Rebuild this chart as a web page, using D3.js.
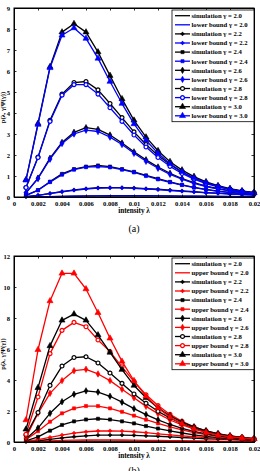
<!DOCTYPE html>
<html><head><meta charset="utf-8">
<script src="https://cdn.jsdelivr.net/npm/d3@7"></script>
<style>
html,body{margin:0;padding:0;background:#fff;}
svg{display:block;}
text{font-family:"Liberation Serif","Times New Roman",serif;}
</style></head>
<body><div id="chart"></div>
<script>
const lambda = [0.001,0.002,0.003,0.004,0.005,0.006,0.007,0.008,0.009,0.010,0.011,0.012,0.013,0.014,0.015,0.016,0.017,0.018,0.019,0.020];
const gammas = ["2.0","2.2","2.4","2.6","2.8","3.0"];
const xTicks = [0,0.002,0.004,0.006,0.008,0.01,0.012,0.014,0.016,0.018,0.02];
const xTickLabels = ["0","0.002","0.004","0.006","0.008","0.01","0.012","0.014","0.016","0.018","0.02"];
const yTicksA = [0,1,2,3,4,5,6,7,8,9];
const yTicksB = [0,2,4,6,8,10,12];

// simulation
const sim20 = [0.003,0.01,0.02,0.03,0.04,0.05,0.055,0.06,0.06,0.06,0.06,0.055,0.05,0.045,0.04,0.035,0.03,0.025,0.02,0.02];
const sim22 = [0.02,0.08,0.17,0.26,0.34,0.40,0.44,0.45,0.45,0.43,0.40,0.37,0.33,0.29,0.25,0.21,0.18,0.15,0.12,0.10];
const sim24 = [0.08,0.33,0.73,1.10,1.33,1.45,1.50,1.45,1.33,1.20,1.03,0.87,0.72,0.58,0.46,0.36,0.28,0.22,0.17,0.13];
const sim26 = [0.20,0.90,1.85,2.60,3.08,3.30,3.22,2.95,2.57,2.15,1.77,1.43,1.13,0.88,0.68,0.52,0.40,0.30,0.22,0.17];
const sim28 = [0.45,1.90,3.65,4.90,5.45,5.50,5.10,4.45,3.78,3.10,2.50,1.98,1.55,1.18,0.90,0.68,0.51,0.38,0.28,0.21];
const sim30 = [0.82,3.50,6.20,7.85,8.25,7.85,6.90,5.78,4.67,3.65,2.85,2.20,1.68,1.28,0.97,0.72,0.54,0.40,0.29,0.21];
// lower bound
const low20 = [0.003,0.01,0.02,0.03,0.035,0.045,0.05,0.055,0.055,0.055,0.055,0.05,0.045,0.04,0.035,0.03,0.025,0.02,0.02,0.015];
const low22 = [0.02,0.08,0.16,0.25,0.32,0.38,0.42,0.43,0.43,0.41,0.38,0.35,0.31,0.27,0.24,0.20,0.17,0.14,0.12,0.09];
const low24 = [0.08,0.32,0.71,1.06,1.30,1.42,1.45,1.41,1.30,1.17,1.00,0.84,0.70,0.57,0.45,0.35,0.27,0.21,0.16,0.12];
const low26 = [0.20,0.88,1.80,2.55,3.00,3.18,3.12,2.85,2.50,2.08,1.70,1.37,1.08,0.85,0.65,0.50,0.38,0.29,0.21,0.16];
const low28 = [0.45,1.88,3.60,4.85,5.35,5.35,4.90,4.25,3.60,2.95,2.38,1.88,1.46,1.12,0.85,0.64,0.48,0.36,0.27,0.20];
const low30 = [0.80,3.45,6.15,7.70,8.05,7.55,6.60,5.50,4.45,3.48,2.70,2.08,1.58,1.20,0.90,0.68,0.50,0.37,0.27,0.20];
// upper bound
const up20 = [0.01,0.04,0.07,0.10,0.12,0.13,0.14,0.14,0.13,0.12,0.11,0.10,0.09,0.08,0.07,0.06,0.05,0.04,0.03,0.03];
const up22 = [0.04,0.15,0.30,0.45,0.57,0.66,0.71,0.72,0.70,0.66,0.60,0.53,0.46,0.40,0.34,0.28,0.23,0.19,0.15,0.12];
const up24 = [0.15,0.70,1.31,1.85,2.17,2.32,2.32,2.17,1.95,1.70,1.44,1.20,0.97,0.78,0.61,0.47,0.36,0.28,0.21,0.16];
const up26 = [0.30,1.85,3.14,3.96,4.60,4.69,4.39,3.96,3.40,2.85,2.30,1.83,1.42,1.10,0.84,0.63,0.47,0.35,0.26,0.20];
const up28 = [0.50,2.90,5.70,7.20,7.72,7.44,6.58,5.83,4.85,3.90,3.05,2.35,1.78,1.33,0.98,0.72,0.53,0.39,0.29,0.22];
const up30 = [1.42,5.95,9.10,10.88,10.88,9.87,8.34,6.69,5.20,3.95,2.95,2.20,1.60,1.17,0.85,0.62,0.45,0.34,0.26,0.20];

const simAll = [sim20,sim22,sim24,sim26,sim28,sim30];
const lowAll = [low20,low22,low24,low26,low28,low30];
const upAll  = [up20,up22,up24,up26,up28,up30];

const BLACK="#000000", BLUE="#0000ff", RED="#ff0000";
const markerTypes = [null, d3.symbolCross, d3.symbolSquare, d3.symbolDiamond, d3.symbolCircle, d3.symbolTriangle];
const markerSizes = [0, 6, 10, 12, 12, 16];

const W=260, H=471;
const svg = d3.select("#chart").append("svg").attr("width",W).attr("height",H);

function drawMarker(g, i, cx, cy, color){
  if(!markerTypes[i]) return;
  const hollow = (i===4);
  g.append("path")
    .attr("d", d3.symbol().type(markerTypes[i]).size(markerSizes[i])())
    .attr("transform",`translate(${cx},${cy})`)
    .attr("fill", hollow ? "#fff" : color)
    .attr("stroke", color)
    .attr("stroke-width", hollow ? 1.2 : 0.6);
}

function panel(cfg){
  const x = d3.scaleLinear().domain([0,0.02]).range([cfg.left,cfg.right]);
  const y = d3.scaleLinear().domain([0,cfg.ymax]).range([cfg.bottom,cfg.top]);
  const g = svg.append("g");

  const line = d3.line().x((d,i)=>x(lambda[i])).y(d=>y(d));
  const series = [];
  for(let i=0;i<6;i++){
    series.push({vals:simAll[i], color:BLACK, m:i});
    series.push({vals:cfg.bound[i], color:cfg.bcolor, m:i});
  }
  series.forEach(s=>{
    g.append("path").attr("d",line(s.vals)).attr("fill","none")
      .attr("stroke",s.color).attr("stroke-width",1.3).attr("stroke-linejoin","round");
    s.vals.forEach((v,k)=>drawMarker(g,s.m,x(lambda[k]),y(v),s.color));
  });

  // box
  g.append("rect").attr("x",cfg.left).attr("y",cfg.top)
    .attr("width",cfg.right-cfg.left).attr("height",cfg.bottom-cfg.top)
    .attr("fill","none").attr("stroke","#000").attr("stroke-width",1);

  // axes
  const xa = d3.axisBottom(x).tickValues(xTicks).tickSizeInner(-2.5).tickSizeOuter(0)
    .tickFormat((d,i)=>xTickLabels[i]).tickPadding(4.5);
  const gx = g.append("g").attr("transform",`translate(0,${cfg.bottom})`).call(xa);
  const xt = d3.axisTop(x).tickValues(xTicks).tickSizeInner(-2.5).tickSizeOuter(0).tickFormat("");
  const gxt = g.append("g").attr("transform",`translate(0,${cfg.top})`).call(xt);
  const ya = d3.axisLeft(y).tickValues(cfg.yticks).tickSizeInner(-2.5).tickSizeOuter(0)
    .tickFormat(d3.format("d")).tickPadding(4);
  const gy = g.append("g").attr("transform",`translate(${cfg.left},0)`).call(ya);
  const yr = d3.axisRight(y).tickValues(cfg.yticks).tickSizeInner(-2.5).tickSizeOuter(0).tickFormat("");
  const gyr = g.append("g").attr("transform",`translate(${cfg.right},0)`).call(yr);
  [gx,gxt,gy,gyr].forEach(a=>{
    a.select(".domain").attr("stroke","#000").attr("stroke-width",1);
    a.selectAll(".tick line").attr("stroke","#000").attr("stroke-width",0.8);
    a.selectAll("text").attr("font-family","Liberation Serif, serif").attr("font-weight","bold")
      .attr("font-size",6.6).attr("fill","#000");
  });

  // axis labels
  g.append("text").attr("x",(cfg.left+cfg.right)/2).attr("y",cfg.bottom+15.5)
    .attr("text-anchor","middle").attr("font-weight","bold").attr("font-size",7.2)
    .text("intensity λ");
  g.append("text").attr("transform",`translate(4.5,${(cfg.top+cfg.bottom)/2+5}) rotate(-90)`)
    .attr("text-anchor","middle").attr("font-weight","bold").attr("font-size",6.5)
    .text("p(λ, γ|Ψ(γ))");
  g.append("text").attr("x",(cfg.left+cfg.right)/2).attr("y",cfg.capY)
    .attr("text-anchor","middle").attr("font-size",10).text(cfg.caption);

  // legend
  const lg = g.append("g");
  const rowH = 9.1;
  lg.append("rect").attr("x",172).attr("y",cfg.top+2).attr("width",cfg.right-172)
    .attr("height",12*rowH+2.5).attr("fill","#fff").attr("stroke","#000").attr("stroke-width",0.8);
  for(let r=0;r<12;r++){
    const i = Math.floor(r/2);
    const isSim = r%2===0;
    const color = isSim?BLACK:cfg.bcolor;
    const cy = cfg.top+7.7+r*rowH;
    lg.append("line").attr("x1",175).attr("x2",190).attr("y1",cy).attr("y2",cy)
      .attr("stroke",color).attr("stroke-width",1.3);
    drawMarker(lg,i,182.5,cy,color);
    lg.append("text").attr("x",191.5).attr("y",cy+2.3).attr("font-weight","bold")
      .attr("font-size",6.7).attr("fill","#000")
      .text((isSim?"simulation":cfg.bname)+" γ = "+gammas[i]);
  }
}

panel({top:8,bottom:197,left:14,right:254,ymax:9,yticks:yTicksA,bound:lowAll,bcolor:BLUE,
       bname:"lower bound",caption:"(a)",capY:232});
panel({top:256,bottom:442,left:14,right:254,ymax:12,yticks:yTicksB,bound:upAll,bcolor:RED,
       bname:"upper bound",caption:"(b)",capY:474});
</script></body></html>
